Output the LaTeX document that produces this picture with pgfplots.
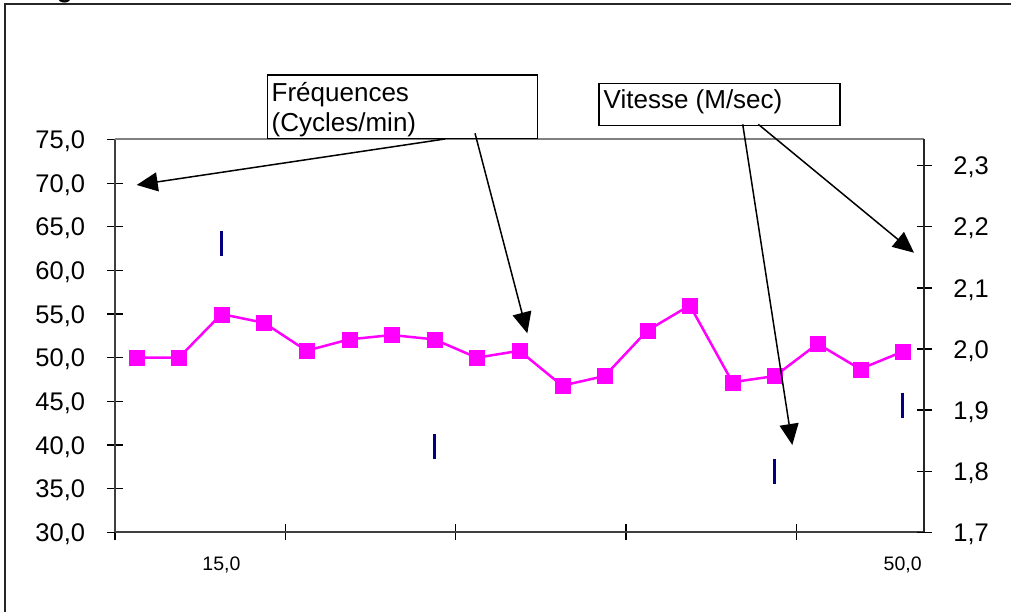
\documentclass[border=0pt]{standalone}
\usepackage{fontspec}
\setmainfont{Liberation Sans}
\usepackage{pgfplots}
\pgfplotsset{compat=1.18}
\usetikzlibrary{arrows.meta}
\definecolor{mag}{RGB}{255,0,255}
\definecolor{navyb}{RGB}{0,0,128}

\begin{document}
\begin{tikzpicture}[x=1pt,y=1pt]
\useasboundingbox (0,0) rectangle (1011,612);
% outer frame (cut by page)
\draw[line width=2pt, black!85] (5,-20) -- (5,608) -- (1030,608);
\node[anchor=base west, inner sep=0pt, font=\bfseries\fontsize{26}{30}\selectfont] at (33.6,614.8) {Figure};

\begin{axis}[
  at={(115pt,79.7pt)}, anchor=south west, scale only axis,
  width=809pt, height=392.8pt,
  xmin=0, xmax=19, ymin=30, ymax=75,
  axis x line*=bottom, axis y line*=left,
  axis line style={black!75, line width=2pt, -},
  xtick={0,4,8,12,16}, xticklabels={},
  extra x ticks={2.5,18.5},
  extra x tick labels={{15,0},{50,0}},
  extra x tick style={major tick length=0pt,
    xticklabel style={anchor=base, yshift=-38.7pt, inner sep=0pt,
      font=\fontsize{19.5}{22}\selectfont}},
  ytick={30,35,40,45,50,55,60,65,70,75},
  tick align=center, major tick length=16pt,
  tick style={black, line width=1.2pt},
  yticklabel style={anchor=base east, xshift=-21.7pt, yshift=-9.1pt, inner sep=0pt,
    font=\fontsize{25.5}{30}\selectfont,
    /pgf/number format/.cd, fixed, fixed zerofill, precision=1, use comma, assume math mode=true},
  clip=false,
]
\draw[gray, line width=2pt] (rel axis cs:0,1) -- (rel axis cs:1,1);
\addplot[mag, line width=2.5pt, mark=square*, mark size=7.5pt,
  mark options={solid, fill=mag, draw=mag, line width=0.1pt}]
  coordinates {(0.5,50.0)(1.5,50.0)(2.5,55.0)(3.5,54.0)(4.5,50.8)(5.5,52.1)
  (6.5,52.6)(7.5,52.1)(8.5,50.0)(9.5,50.8)(10.5,46.8)(11.5,47.9)(12.5,53.1)
  (13.5,56.0)(14.5,47.2)(15.5,47.9)(16.5,51.6)(17.5,48.7)(18.5,50.7)};
\end{axis}

\begin{axis}[
  at={(115pt,79.7pt)}, anchor=south west, scale only axis,
  width=809pt, height=392.8pt,
  xmin=0, xmax=19, ymin=1.7, ymax=2.3429,
  axis x line=none, axis y line*=right,
  axis line style={black!85, line width=2pt, -},
  ytick={1.7,1.8,1.9,2.0,2.1,2.2,2.3},
  tick align=center, major tick length=15pt,
  tick style={black, line width=1.2pt},
  yticklabel style={anchor=base west, xshift=21.7pt, yshift=-9.1pt, inner sep=0pt,
    font=\fontsize{25.5}{30}\selectfont,
    /pgf/number format/.cd, fixed, fixed zerofill, precision=1, use comma, assume math mode=true},
  clip=false,
]
\addplot[navyb, only marks, mark=|, mark size=12.5pt, mark options={line width=3pt}]
  coordinates {(2.5,2.173)(7.5,1.840)(15.5,1.799)(18.5,1.908)};
\end{axis}

% text boxes
\draw[black, line width=1.5pt, fill=white] (267.3,537) rectangle (537.7,473.7);
\node[anchor=base west, inner sep=0pt, font=\fontsize{26}{30}\selectfont] at (271.5,510.3) {Fréquences};
\node[anchor=base west, inner sep=0pt, font=\fontsize{26}{30}\selectfont] at (271.5,480.3) {(Cycles/min)};
\draw[black, line width=1.5pt, fill=white] (599,528.7) rectangle (840,486.3);
\node[anchor=base west, inner sep=0pt, font=\fontsize{26}{30}\selectfont] at (603.5,503.7) {Vitesse (M/sec)};

% arrows
\begin{scope}[line width=1.5pt, -{Triangle[length=21pt,width=19pt]}]
\draw (445,473) -- (136.7,427);
\draw (475,478.7) -- (527.3,278.7);
\draw (742.7,487.7) -- (792.3,167);
\draw (758.3,487.7) -- (914,359.3);
\end{scope}
\end{tikzpicture}
\end{document}
